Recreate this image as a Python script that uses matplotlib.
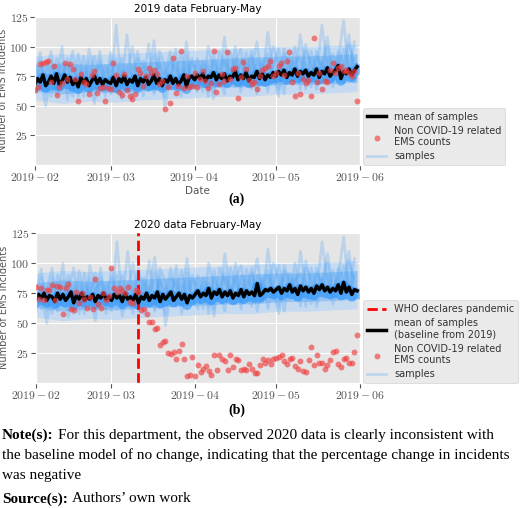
import numpy as np
import matplotlib
matplotlib.use("Agg")
import matplotlib.pyplot as plt
import matplotlib.dates as mdates
import matplotlib.ticker as mticker
import datetime as dt

plt.style.use("ggplot")
plt.rcParams["mathtext.fontset"] = "cm"
plt.rcParams["font.family"] = "DejaVu Sans"

start = dt.date(2019, 2, 1)
dates = [start + dt.timedelta(days=i) for i in range(120)]
sample_dates = [start + dt.timedelta(days=2 * i) for i in range(60)]
band_dates = [start + dt.timedelta(days=10 * i) for i in range(12)] + [dt.date(2019, 5, 31)]
who_date = dt.date(2019, 3, 11)

mean_2019 = [68,73,70,76,67,70,75, 69,77,68,71,76,70,74, 68,72,66,74,69,73,67, 71,75,69,73,68,72,70,
             69,74,67,73,70,75,68, 72,70,75,67,73,70,74, 68,71,76,69,73,67,72, 70,75,69,73,68,71,76, 66,74,75,
             72,76,73,77,71,75,74, 78,72,76,73,77,71,75, 74,79,72,76,73,78,71, 75,74,79,73,77,72,76, 74,78,
             75,79,76,80,74,78,76, 81,75,79,77,80,75,78, 76,81,74,79,77,82,75, 78,80,84,73,79,77,81, 76,80,83]
obs_2019 = [63,66,85,86,87,88,70,84,59,66,69,86,73,85,81,73,54,77,70,68,60,76,79,61,65,66,54,65,
            64,86,76,62,59,77,63,58,56,60,81,78,67,75,82,78,80,77,68,71,47,66,52,90,61,67,96,65,75,66,67,
            78,66,73,79,71,65,69,96,62,68,77,71,95,73,81,82,57,74,87,81,72,68,70,64,75,80,82,84,88,75,
            78,84,86,76,88,95,70,58,78,60,73,69,72,58,107,70,78,64,71,70,80,86,78,82,84,79,80,78,75,79,54]
mean_2020 = [70,74,71,75,69,73,72, 68,75,70,74,69,72,76, 67,73,70,75,69,72,70, 74,68,73,71,75,70,72,
             69,74,71,73,68,75,70, 72,69,74,67,72,70,75, 69,73,71,76,68,74,70, 73,76,69,72,75,70,74, 67,73,71,
             74,77,72,75,73,79,71, 76,74,78,72,76,73,77, 71,75,73,78,72,77,74, 76,73,83,73,75,78,77, 79,76,
             78,80,75,79,77,82,76, 79,74,81,77,80,76,79, 75,81,78,82,77,80,76, 79,77,82,75,84,76,80, 74,78,77]
obs_2020 = [80,70,79,69,78,78,82,69,81,80,58,79,83,62,61,76,67,75,70,63,72,62,87,66,63,75,69,73,
            96,79,76,79,77,75,80,68,67,78,76,61,62,58,51,51,45,46,32,34,35,25,24,26,20,27,33,20,6,7,22,
            6,15,9,12,14,10,7,23,11,23,20,18,11,23,13,20,19,11,12,11,16,12,8,8,15,20,17,19,16,20,
            21,22,23,18,16,20,21,14,12,18,10,9,19,30,15,23,17,17,12,15,19,26,27,16,13,20,21,17,17,26,40]

samples = [
 [75,95,60,88,70,100,55,82,68,92,62,78,85,58,95,70,66,110,72,60,88,75,105,64,80,70,98,58,84,72,76,62,100,80,68,108,74,90,66,95,78,85,70,112,76,64,98,82,88,70,102,80,75,118,84,72,96,86,78,104],
 [65,80,72,58,90,76,85,62,94,70,80,52,88,74,60,118,68,84,72,96,58,80,70,90,48,76,86,66,92,70,62,88,78,56,96,84,72,100,62,86,80,104,68,90,76,58,94,86,70,110,78,66,92,82,100,74,88,122,76,90],
 [85,62,78,96,60,72,90,66,76,58,98,80,64,84,72,90,56,76,100,68,82,64,92,76,58,88,80,72,104,66,90,76,84,62,80,92,70,86,98,74,64,90,82,76,100,86,60,92,80,74,96,88,64,84,108,78,90,70,102,84],
 [70,74,50,80,84,64,78,96,58,82,74,92,66,76,88,62,80,70,58,90,84,72,62,96,84,66,74,94,68,86,82,72,64,88,76,60,96,80,84,68,92,74,88,62,84,98,76,70,86,92,64,96,80,88,72,94,76,82,110,70],
 [58,88,68,74,64,86,70,58,84,66,88,70,96,62,80,74,90,64,84,78,70,102,60,86,74,96,64,82,76,90,70,84,58,94,72,88,80,66,90,78,96,60,84,94,70,80,88,74,100,64,86,72,96,80,90,66,80,98,84,76],
]
band_low = [55,52,54,53,55,56,57,58,58,60,60,61,62]
band_high = [92,94,93,94,95,96,97,98,99,100,100,101,102]

fig = plt.figure(figsize=(5.2, 5.08), dpi=100)
ax1 = fig.add_axes([0.067, 0.675, 0.625, 0.294])
ax2 = fig.add_axes([0.069, 0.246, 0.623, 0.297])

def draw(ax, mean, obs, title, who):
    ax.fill_between(band_dates, band_low, band_high, color="#b8d6f5", alpha=0.7, lw=0)
    ax.fill_between(band_dates, [v + 8 for v in band_low], [v - 8 for v in band_high],
                    color="#63adf5", alpha=0.5, lw=0)
    for i, s in enumerate(samples):
        ax.plot(sample_dates, s, color="#5aa8f5", alpha=0.3, lw=2,
                label="samples" if i == 0 else None)
    ax.plot(dates, [m - 2 for m in mean], color="#1e8fff", alpha=0.55, lw=7)
    if who:
        ax.axvline(who_date, color="red", ls="--", lw=2, label="WHO declares pandemic")
    ax.plot(dates, mean, color="black", lw=2.5,
            label="mean of samples\n(baseline from 2019)" if who else "mean of samples")
    ax.scatter(dates, obs, color="#f04040", alpha=0.65, s=18, lw=0, zorder=5,
               label="Non COVID-19 related\nEMS counts")
    ax.set_xlim(dt.date(2019, 2, 1), dt.date(2019, 6, 1))
    ax.set_ylim(0, 126)
    ax.set_yticks([25, 50, 75, 100, 125])
    ax.yaxis.set_major_formatter(mticker.FuncFormatter(lambda v, p: "$%d$" % v))
    ax.xaxis.set_major_locator(mdates.MonthLocator())
    ax.xaxis.set_major_formatter(mticker.FuncFormatter(
        lambda v, p: "$%s$" % mdates.num2date(v).strftime("%Y-%m")))
    ax.tick_params(labelsize=8.5, colors="#555555", pad=1)
    ax.set_title(title, fontsize=7.5, pad=3)
    ax.set_ylabel("Number of EMS incidents", fontsize=7, color="#555555", labelpad=1)
    h, l = ax.get_legend_handles_labels()
    order = ["WHO declares pandemic", "mean of samples", "mean of samples\n(baseline from 2019)",
             "Non COVID-19 related\nEMS counts", "samples"]
    pairs = sorted(zip(h, l), key=lambda x: order.index(x[1]))
    leg = ax.legend([p[0] for p in pairs], [p[1] for p in pairs], loc="lower left",
                    bbox_to_anchor=(1.01, 0), fontsize=7, frameon=True, borderaxespad=0,
                    handlelength=2, labelspacing=0.4)
    for t in leg.get_texts():
        t.set_color("#333333")

draw(ax1, mean_2019, obs_2019, "2019 data February-May", False)
ax1.set_xlabel("Date", fontsize=7.5, color="#555555", labelpad=1)
draw(ax2, mean_2020, obs_2020, "2020 data February-May", True)

serif = "Liberation Serif"
fig.text(0.455, 1 - 199 / 508, "(a)", fontsize=10, weight="bold", family=serif, ha="center", va="center")
fig.text(0.455, 1 - 410 / 508, "(b)", fontsize=10, weight="bold", family=serif, ha="center", va="center")

fig.canvas.draw()
r = fig.canvas.get_renderer()
def label_line(y, bold, rest):
    t = fig.text(2 / 520, 1 - y / 508, bold, fontsize=11, weight="bold", family=serif, va="center")
    bb = t.get_window_extent(r)
    fig.text(bb.x1 / 520 + 0.008, 1 - y / 508, rest, fontsize=11, family=serif, va="center")

label_line(435, "Note(s):", "For this department, the observed 2020 data is clearly inconsistent with")
fig.text(2 / 520, 1 - 455 / 508, "the baseline model of no change, indicating that the percentage change in incidents",
         fontsize=11, family=serif, va="center")
fig.text(2 / 520, 1 - 475 / 508, "was negative", fontsize=11, family=serif, va="center")
label_line(499, "Source(s):", "Authors\u2019 own work")

fig.savefig("out.png", dpi=100)
